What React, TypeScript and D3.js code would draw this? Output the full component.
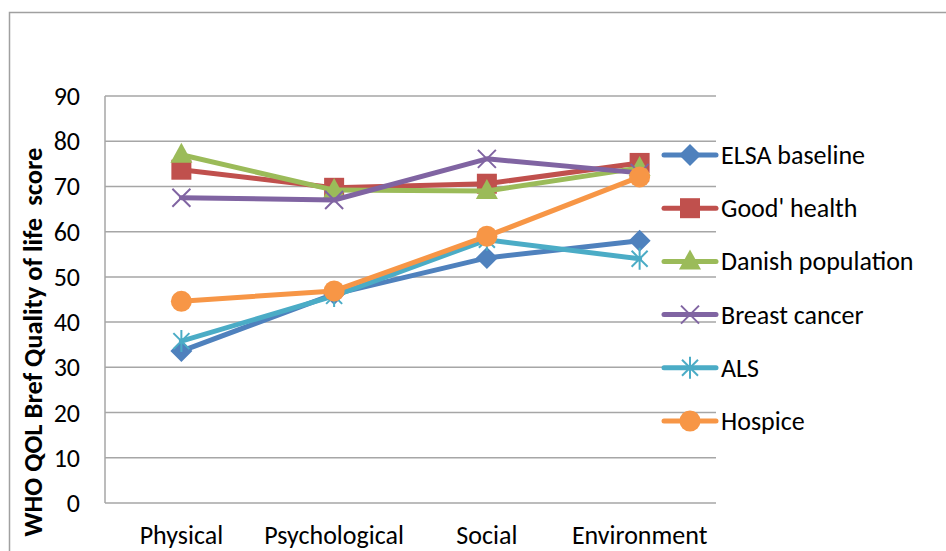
import React from "react";
import * as d3 from "d3";

const categories = ["Physical", "Psychological", "Social", "Environment"];
const seriesNames = ["ELSA baseline", "Good' health", "Danish population", "Breast cancer", "ALS", "Hospice"];
const elsaBaseline = [33.6, 46.2, 54.2, 58.0];
const goodHealth = [73.7, 69.7, 70.6, 75.2];
const danishPopulation = [77.0, 69.2, 69.0, 74.1];
const breastCancer = [67.5, 67.0, 76.1, 73.0];
const als = [35.8, 45.8, 58.2, 54.0];
const hospice = [44.6, 46.9, 59.0, 72.1];
const yTicks = [0, 10, 20, 30, 40, 50, 60, 70, 80, 90];

const seriesValues = [elsaBaseline, goodHealth, danishPopulation, breastCancer, als, hospice];
const colors = ["#4F81BD", "#C0504D", "#9BBB59", "#8064A2", "#4BACC6", "#F79646"];
const markers = ["diamond", "square", "triangle", "x", "star", "circle"];

const W = 946;
const H = 551;
const plot = { left: 105, right: 716, top: 96, bottom: 503 };
const font = "Carlito, 'Open Sans', 'Liberation Sans', sans-serif";

function Marker({ type, x, y, color }: { type: string; x: number; y: number; color: string }) {
  if (type === "diamond") {
    const s = 11;
    return <path d={`M${x},${y - s}L${x + s},${y}L${x},${y + s}L${x - s},${y}Z`} fill={color} />;
  }
  if (type === "square") {
    return <rect x={x - 10} y={y - 10} width={20} height={20} fill={color} />;
  }
  if (type === "triangle") {
    return <path d={`M${x},${y - 12}L${x + 11},${y + 8}L${x - 11},${y + 8}Z`} fill={color} />;
  }
  if (type === "circle") {
    return <circle cx={x} cy={y} r={10.5} fill={color} />;
  }
  if (type === "x") {
    const s = 9;
    return (
      <path
        d={`M${x - s},${y - s}L${x + s},${y + s}M${x - s},${y + s}L${x + s},${y - s}`}
        stroke={color}
        strokeWidth={2}
      />
    );
  }
  // star: x with a vertical stroke
  const s = 8;
  return (
    <path
      d={`M${x - s},${y - s}L${x + s},${y + s}M${x - s},${y + s}L${x + s},${y - s}M${x},${y - 11}L${x},${y + 11}`}
      stroke={color}
      strokeWidth={2}
    />
  );
}

export default function App() {
  const x = d3.scaleBand().domain(categories).range([plot.left, plot.right]);
  const y = d3.scaleLinear().domain([0, 90]).range([plot.bottom, plot.top]);
  const cx = (c: string) => (x(c) as number) + x.bandwidth() / 2;
  const line = d3
    .line<number>()
    .x((_, i) => cx(categories[i]))
    .y((d) => y(d));

  const legendY = d3.scaleLinear().domain([0, 5]).range([155, 421]);

  return (
    <svg width={W} height={H} style={{ position: "absolute", left: 0, top: 0 }}>
      <rect x={0} y={0} width={W} height={H} fill="#fff" />
      {/* chart frame */}
      <path d={`M9.5,${H}V12.5H${W}`} fill="none" stroke="#a0a0a0" strokeWidth={1.5} />

      {/* gridlines */}
      {yTicks.map((t) => (
        <line key={t} x1={plot.left} x2={plot.right} y1={y(t)} y2={y(t)} stroke="#a6a6a6" strokeWidth={1.5} />
      ))}
      <line x1={plot.left} x2={plot.left} y1={plot.top} y2={plot.bottom} stroke="#a6a6a6" strokeWidth={1.5} />

      {/* y tick labels */}
      {yTicks.map((t) => (
        <text
          key={t}
          x={80}
          y={y(t)}
          textAnchor="end"
          dominantBaseline="central"
          fontFamily={font}
          fontSize={26}
          fill="#000"
        >
          {t}
        </text>
      ))}

      {/* x labels */}
      {categories.map((c) => (
        <text
          key={c}
          x={cx(c)}
          y={544}
          textAnchor="middle"
          fontFamily={font}
          fontSize={26}
          fill="#000"
        >
          {c}
        </text>
      ))}

      {/* y axis title */}
      <text
        transform={`translate(33,342) rotate(-90)`}
        textAnchor="middle"
        dominantBaseline="central"
        fontFamily={font}
        fontSize={26.5}
        fontWeight="bold"
        fill="#000"
        style={{ whiteSpace: "pre" }}
      >
        {"WHO QOL Bref Quality of life  score"}
      </text>

      {/* series */}
      {seriesValues.map((vals, si) => (
        <g key={seriesNames[si]}>
          <path
            d={line(vals) || ""}
            fill="none"
            stroke={colors[si]}
            strokeWidth={5}
            strokeLinejoin="round"
            strokeLinecap="round"
          />
          {vals.map((v, i) => (
            <Marker key={i} type={markers[si]} x={cx(categories[i])} y={y(v)} color={colors[si]} />
          ))}
        </g>
      ))}

      {/* legend */}
      {seriesNames.map((name, si) => {
        const ly = legendY(si);
        return (
          <g key={name}>
            <line x1={664} x2={716} y1={ly} y2={ly} stroke={colors[si]} strokeWidth={5} strokeLinecap="round" />
            <Marker type={markers[si]} x={690} y={ly} color={colors[si]} />
            <text x={721} y={ly} dominantBaseline="central" fontFamily={font} fontSize={26} fill="#000">
              {name}
            </text>
          </g>
        );
      })}
    </svg>
  );
}
